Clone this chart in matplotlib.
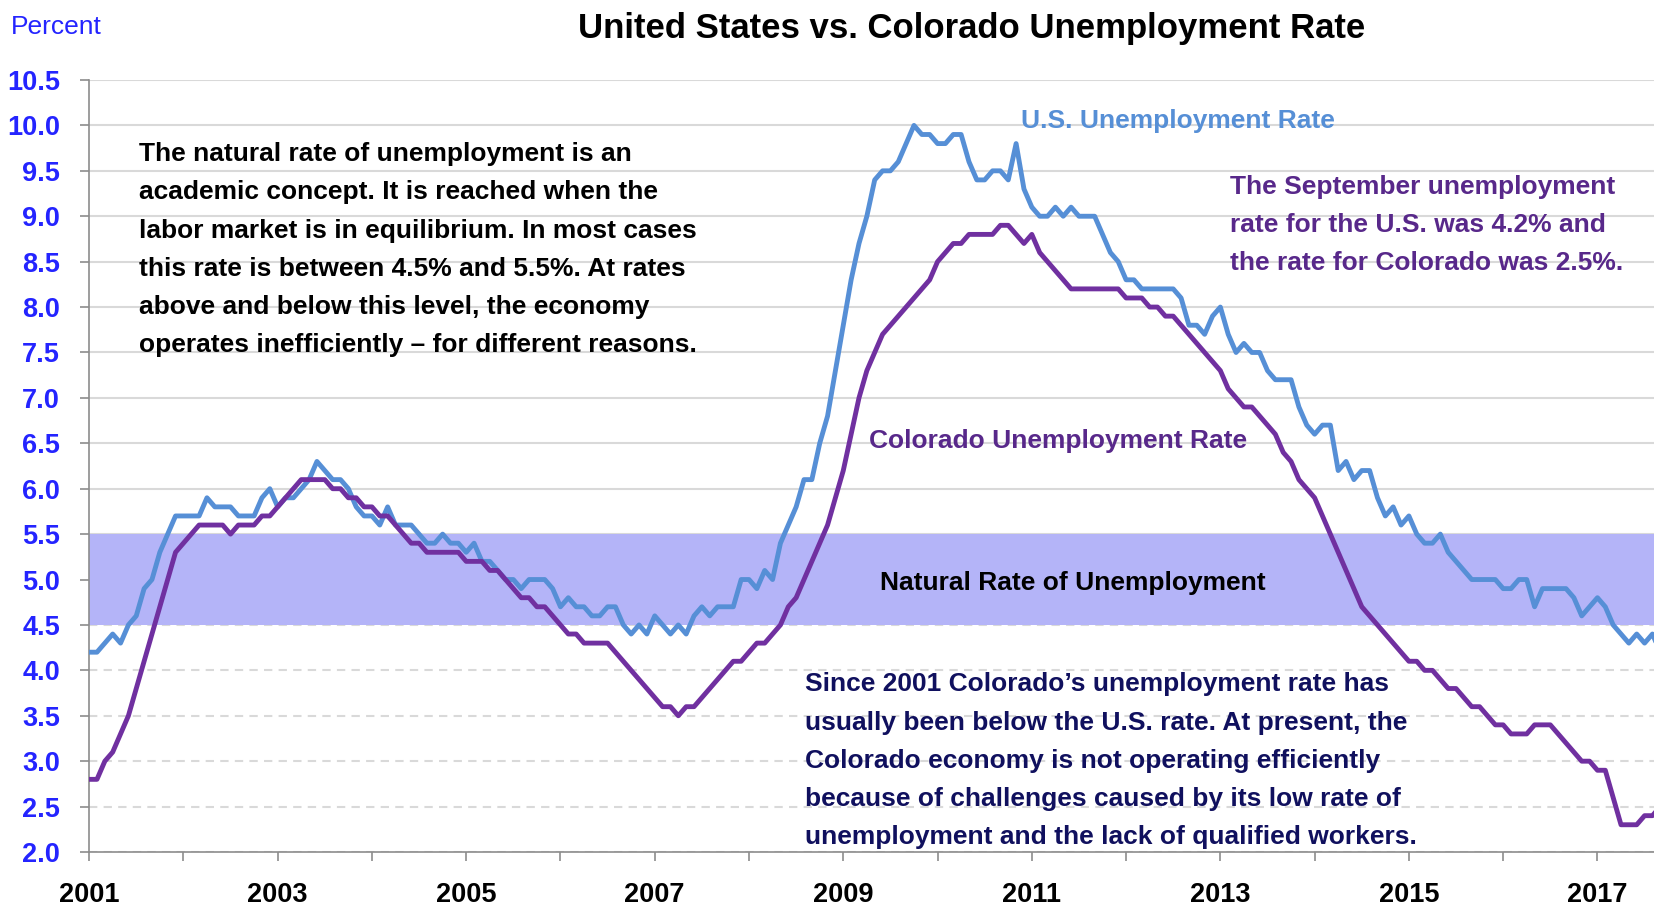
import matplotlib
matplotlib.use('Agg')
import matplotlib.pyplot as plt
import numpy as np

plt.rcParams['font.family'] = ['Liberation Sans', 'DejaVu Sans']

start_year = 2001
# monthly rates, Jan 2001 - Sep 2017
us_rate = [4.2, 4.2, 4.3, 4.4, 4.3, 4.5, 4.6, 4.9, 5.0, 5.3, 5.5, 5.7,
           5.7, 5.7, 5.7, 5.9, 5.8, 5.8, 5.8, 5.7, 5.7, 5.7, 5.9, 6.0,
           5.8, 5.9, 5.9, 6.0, 6.1, 6.3, 6.2, 6.1, 6.1, 6.0, 5.8, 5.7,
           5.7, 5.6, 5.8, 5.6, 5.6, 5.6, 5.5, 5.4, 5.4, 5.5, 5.4, 5.4,
           5.3, 5.4, 5.2, 5.2, 5.1, 5.0, 5.0, 4.9, 5.0, 5.0, 5.0, 4.9,
           4.7, 4.8, 4.7, 4.7, 4.6, 4.6, 4.7, 4.7, 4.5, 4.4, 4.5, 4.4,
           4.6, 4.5, 4.4, 4.5, 4.4, 4.6, 4.7, 4.6, 4.7, 4.7, 4.7, 5.0,
           5.0, 4.9, 5.1, 5.0, 5.4, 5.6, 5.8, 6.1, 6.1, 6.5, 6.8, 7.3,
           7.8, 8.3, 8.7, 9.0, 9.4, 9.5, 9.5, 9.6, 9.8, 10.0, 9.9, 9.9,
           9.8, 9.8, 9.9, 9.9, 9.6, 9.4, 9.4, 9.5, 9.5, 9.4, 9.8, 9.3,
           9.1, 9.0, 9.0, 9.1, 9.0, 9.1, 9.0, 9.0, 9.0, 8.8, 8.6, 8.5,
           8.3, 8.3, 8.2, 8.2, 8.2, 8.2, 8.2, 8.1, 7.8, 7.8, 7.7, 7.9,
           8.0, 7.7, 7.5, 7.6, 7.5, 7.5, 7.3, 7.2, 7.2, 7.2, 6.9, 6.7,
           6.6, 6.7, 6.7, 6.2, 6.3, 6.1, 6.2, 6.2, 5.9, 5.7, 5.8, 5.6,
           5.7, 5.5, 5.4, 5.4, 5.5, 5.3, 5.2, 5.1, 5.0, 5.0, 5.0, 5.0,
           4.9, 4.9, 5.0, 5.0, 4.7, 4.9, 4.9, 4.9, 4.9, 4.8, 4.6, 4.7,
           4.8, 4.7, 4.5, 4.4, 4.3, 4.4, 4.3, 4.4, 4.2]
co_rate = [2.8, 2.8, 3.0, 3.1, 3.3, 3.5, 3.8, 4.1, 4.4, 4.7, 5.0, 5.3,
           5.4, 5.5, 5.6, 5.6, 5.6, 5.6, 5.5, 5.6, 5.6, 5.6, 5.7, 5.7,
           5.8, 5.9, 6.0, 6.1, 6.1, 6.1, 6.1, 6.0, 6.0, 5.9, 5.9, 5.8,
           5.8, 5.7, 5.7, 5.6, 5.5, 5.4, 5.4, 5.3, 5.3, 5.3, 5.3, 5.3,
           5.2, 5.2, 5.2, 5.1, 5.1, 5.0, 4.9, 4.8, 4.8, 4.7, 4.7, 4.6,
           4.5, 4.4, 4.4, 4.3, 4.3, 4.3, 4.3, 4.2, 4.1, 4.0, 3.9, 3.8,
           3.7, 3.6, 3.6, 3.5, 3.6, 3.6, 3.7, 3.8, 3.9, 4.0, 4.1, 4.1,
           4.2, 4.3, 4.3, 4.4, 4.5, 4.7, 4.8, 5.0, 5.2, 5.4, 5.6, 5.9,
           6.2, 6.6, 7.0, 7.3, 7.5, 7.7, 7.8, 7.9, 8.0, 8.1, 8.2, 8.3,
           8.5, 8.6, 8.7, 8.7, 8.8, 8.8, 8.8, 8.8, 8.9, 8.9, 8.8, 8.7,
           8.8, 8.6, 8.5, 8.4, 8.3, 8.2, 8.2, 8.2, 8.2, 8.2, 8.2, 8.2,
           8.1, 8.1, 8.1, 8.0, 8.0, 7.9, 7.9, 7.8, 7.7, 7.6, 7.5, 7.4,
           7.3, 7.1, 7.0, 6.9, 6.9, 6.8, 6.7, 6.6, 6.4, 6.3, 6.1, 6.0,
           5.9, 5.7, 5.5, 5.3, 5.1, 4.9, 4.7, 4.6, 4.5, 4.4, 4.3, 4.2,
           4.1, 4.1, 4.0, 4.0, 3.9, 3.8, 3.8, 3.7, 3.6, 3.6, 3.5, 3.4,
           3.4, 3.3, 3.3, 3.3, 3.4, 3.4, 3.4, 3.3, 3.2, 3.1, 3.0, 3.0,
           2.9, 2.9, 2.6, 2.3, 2.3, 2.3, 2.4, 2.4, 2.5]

natural_low, natural_high = 4.5, 5.5
year_ticks = list(range(2001, 2018))
year_labels = [str(y) if y % 2 == 1 else '' for y in year_ticks]
y_ticks = np.arange(2.0, 10.51, 0.5)

note_left = ['The natural rate of unemployment is an',
             'academic concept. It is reached when the',
             'labor market is in equilibrium. In most cases',
             'this rate is between 4.5% and 5.5%. At rates',
             'above and below this level, the economy',
             'operates inefficiently \u2013 for different reasons.']
note_right = ['The September unemployment',
              'rate for the U.S. was 4.2% and',
              'the rate for Colorado was 2.5%.']
note_bottom = ['Since 2001 Colorado\u2019s unemployment rate has',
               'usually been below the U.S. rate. At present, the',
               'Colorado economy is not operating efficiently',
               'because of challenges caused by its low rate of',
               'unemployment and the lack of qualified workers.']

us_color = '#568fd6'
co_color = '#7030a0'
label_purple = '#58288a'
tick_blue = '#2424ff'
fs = 19
tick_fs = 19.5

months = start_year + np.arange(len(us_rate)) / 12.0

fig = plt.figure(figsize=(16.54, 9.06), dpi=100)
ax = fig.add_axes([0.0536, 0.0596, 0.9464, 0.8521])

ax.axhspan(natural_low, natural_high, color='#b4b4f8', lw=0, zorder=1)
ax.plot(months, us_rate, color=us_color, lw=3.5, zorder=3)
ax.plot(months, co_rate, color=co_color, lw=3.5, zorder=4)

# the source image is cropped just after the August 2017 point
ax.set_xlim(2001 - 0.005, 2017.60)
ax.set_ylim(2.0, 10.5)
ax.set_xticks(year_ticks)
ax.set_xticklabels(year_labels, fontsize=tick_fs, fontweight='bold', color='black')
ax.set_yticks(y_ticks)
ax.set_yticklabels(['%.1f' % v for v in y_ticks], fontsize=tick_fs,
                   fontweight='bold', color=tick_blue)

ax.set_axisbelow(True)
ax.yaxis.grid(True, color='#d9d9d9', lw=1.5)
for tick in ax.yaxis.get_major_ticks():
    if tick.get_loc() < 5.0:
        tick.gridline.set_linestyle((0, (4, 3)))

for side in ['top', 'right']:
    ax.spines[side].set_visible(False)
for side in ['left', 'bottom']:
    ax.spines[side].set_color('#8c8c8c')
    ax.spines[side].set_linewidth(1.2)
ax.tick_params(axis='both', direction='out', length=6.5, width=1.2,
               color='#8c8c8c')
ax.tick_params(axis='y', pad=14)
ax.tick_params(axis='x', pad=15)

for i, line in enumerate(note_left):
    ax.text(2001.53, 9.605 - i * 0.42, line, fontsize=fs, fontweight='bold',
            color='black', va='baseline', zorder=5)
for i, line in enumerate(note_right):
    ax.text(2013.10, 9.247 - i * 0.42, line, fontsize=fs, fontweight='bold',
            color=label_purple, va='baseline', zorder=5)
for i, line in enumerate(note_bottom):
    ax.text(2008.59, 3.768 - i * 0.42, line, fontsize=fs, fontweight='bold',
            color='#10105e', va='baseline', zorder=5)

ax.text(2010.89, 9.968, 'U.S. Unemployment Rate', fontsize=fs,
        fontweight='bold', color=us_color, va='baseline', zorder=5)
ax.text(2009.27, 6.444, 'Colorado Unemployment Rate', fontsize=fs,
        fontweight='bold', color=label_purple, va='baseline', zorder=5)
ax.text(2011.43, 4.88, 'Natural Rate of Unemployment', fontsize=fs,
        fontweight='bold', color='black', va='baseline', ha='center', zorder=5)

fig.text(0.5877, 0.958, 'United States vs. Colorado Unemployment Rate',
         fontsize=25, fontweight='bold', ha='center', va='baseline')
fig.text(0.0063, 0.962, 'Percent', fontsize=19, color=tick_blue,
         ha='left', va='baseline')

fig.savefig('out.png', dpi=100)
